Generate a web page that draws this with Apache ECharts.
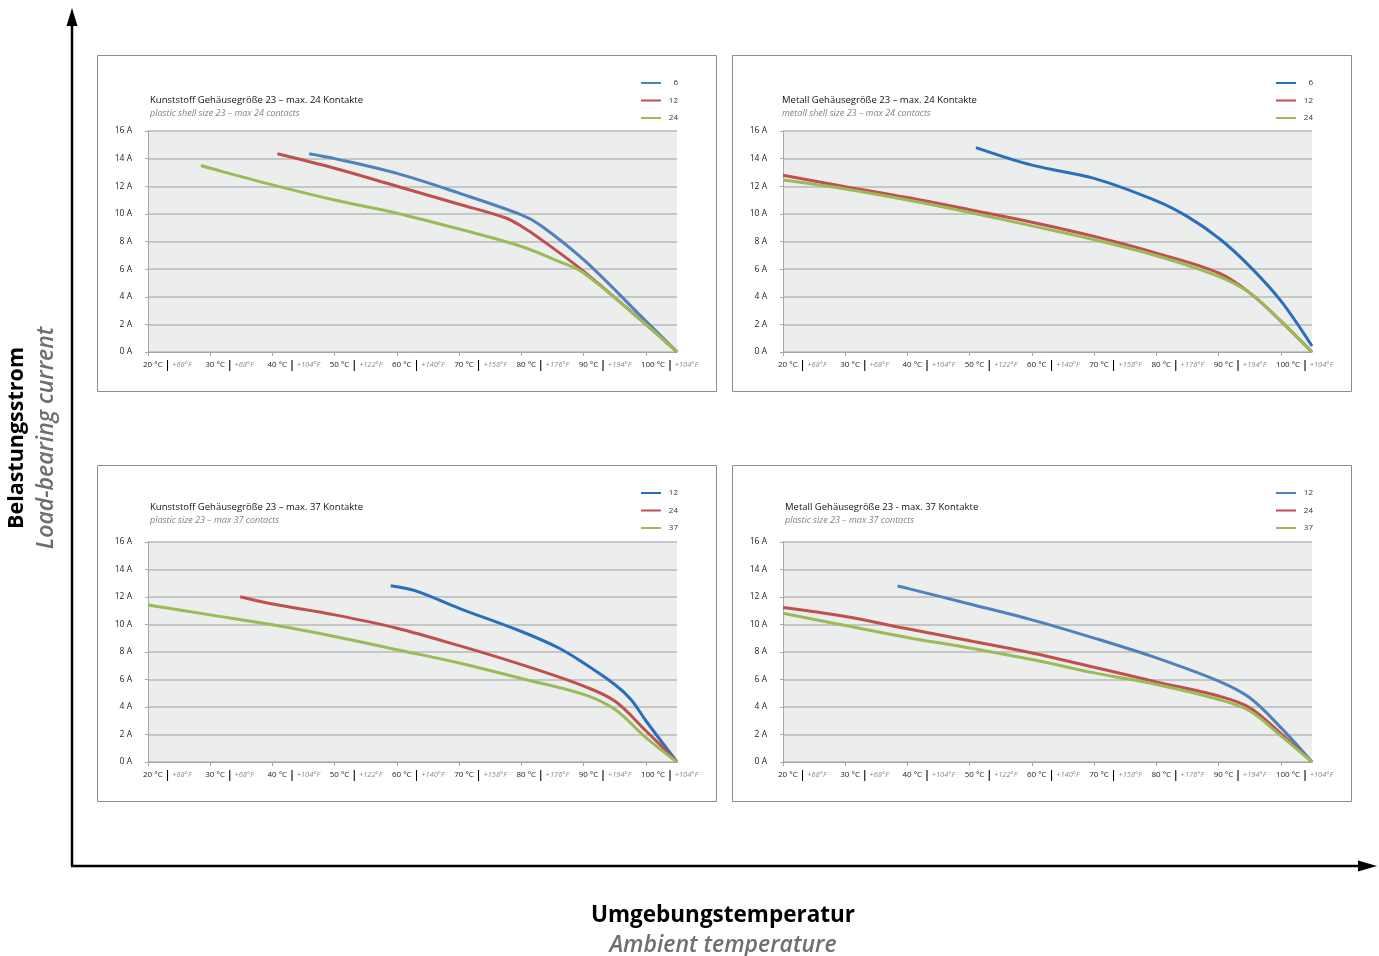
<!DOCTYPE html>
<html>
<head>
<meta charset="utf-8">
<title>Belastungsstrom / Load-bearing current</title>
<script src="https://cdn.jsdelivr.net/npm/echarts@6/dist/echarts.min.js"></script>
<style>
  html, body { margin: 0; padding: 0; background: #fff; }
  #chart { width: 1379px; height: 956px; }
</style>
</head>
<body>
<div id="chart"></div>
<script>
// x-axis tick labels
var tickC = [20, 30, 40, 50, 60, 70, 80, 90, 100];
var tickF = ['+68°F', '+68°F', '+104°F', '+122°F', '+140°F', '+158°F', '+176°F', '+194°F', '+104°F'];

// [°C, A]
// Kunststoff max. 24 Kontakte
var tl6 = [[45.9, 14.35], [50, 14.0], [60, 12.93], [70, 11.5], [80, 9.93], [83, 9.2], [90, 6.68], [100, 2.24], [105, 0]];
var tl12 = [[40.8, 14.35], [50, 13.3], [60, 12.0], [70, 10.7], [77.5, 9.7], [80, 9.1], [83, 8.2], [90, 5.84], [100, 2.0], [105, 0]];
var tl24 = [[28.5, 13.5], [30, 13.3], [40, 12.1], [50, 11.0], [60, 10.05], [70, 8.9], [80, 7.64], [86, 6.56], [90, 5.72], [100, 2.0], [105, 0]];
// Metall max. 24 Kontakte
var tr6 = [[51, 14.8], [60, 13.53], [70, 12.57], [80, 10.94], [85, 9.8], [90, 8.25], [95, 6.2], [100, 3.7], [105, 0.43]];
var tr12 = [[20, 12.8], [30, 11.97], [40, 11.18], [50, 10.3], [60, 9.4], [70, 8.37], [80, 7.16], [90, 5.72], [95, 4.28], [100, 2.24], [105, 0]];
var tr24 = [[20, 12.45], [30, 11.8], [40, 11.0], [50, 10.1], [60, 9.13], [70, 8.13], [80, 6.97], [90, 5.48], [95, 4.28], [100, 2.24], [105, 0]];
// Kunststoff max. 37 Kontakte
var bl12 = [[59, 12.82], [63, 12.45], [70, 11.18], [80, 9.49], [86, 8.29], [90, 7.2], [95, 5.64], [97.6, 4.55], [100, 3.0], [105, 0]];
var bl24 = [[34.8, 12.02], [40, 11.49], [50, 10.7], [60, 9.73], [70, 8.46], [80, 7.08], [90, 5.52], [95, 4.43], [100, 2.27], [105, 0]];
var bl37 = [[20, 11.42], [30, 10.7], [40, 9.98], [50, 9.13], [60, 8.17], [70, 7.2], [80, 6.07], [90, 4.92], [95, 3.83], [100, 1.78], [105, 0]];
// Metall max. 37 Kontakte
var br12 = [[38.4, 12.8], [40, 12.63], [50, 11.49], [60, 10.34], [70, 9.01], [80, 7.57], [90, 5.88], [95, 4.67], [100, 2.5], [105, 0]];
var br24 = [[20, 11.23], [30, 10.58], [40, 9.69], [50, 8.82], [60, 7.93], [70, 6.89], [80, 5.83], [90, 4.8], [95, 3.95], [100, 2.07], [105, 0]];
var br37 = [[20, 10.82], [30, 9.93], [40, 9.06], [50, 8.29], [60, 7.45], [70, 6.48], [80, 5.64], [90, 4.55], [95, 3.71], [100, 1.9], [105, 0]];

var FONT = '"Open Sans", "Noto Sans", sans-serif';
var RED = '#c0504d', GREEN = '#9bbb59';

var panels = [
  { bx: 97, by: 55, tx: 53, ty: 40, title: 'Kunststoff Gehäusegröße 23 – max. 24 Kontakte', sub: 'plastic shell size 23 – max 24 contacts',
    names: ['6', '12', '24'], data: [tl6, tl12, tl24], colors: ['#4f81bd', RED, GREEN] },
  { bx: 732, by: 55, tx: 50, ty: 40, title: 'Metall Gehäusegröße 23 – max. 24 Kontakte', sub: 'metall shell size 23 – max 24 contacts',
    names: ['6', '12', '24'], data: [tr6, tr12, tr24], colors: ['#2a6fbb', RED, GREEN] },
  { bx: 97, by: 465, tx: 53, ty: 37, title: 'Kunststoff Gehäusegröße 23 – max. 37 Kontakte', sub: 'plastic size 23 – max 37 contacts',
    names: ['12', '24', '37'], data: [bl12, bl24, bl37], colors: ['#2a6fbb', RED, GREEN] },
  { bx: 732, by: 465, tx: 53, ty: 37, title: 'Metall Gehäusegröße 23 - max. 37 Kontakte', sub: 'plastic size 23 – max 37 contacts',
    names: ['12', '24', '37'], data: [br12, br24, br37], colors: ['#4f81bd', RED, GREEN] }
];

var grid = [], xAxis = [], yAxis = [], series = [], legend = [], title = [];
var graphic = [];

panels.forEach(function (p, i) {
  var top = p.by + 76 + (i >= 2 ? 1 : 0);
  grid.push({
    left: p.bx + 51, top: top, width: 529, height: 221 - (i >= 2 ? 1 : 0),
    show: true, backgroundColor: '#eceeed', borderWidth: 0
  });
  xAxis.push({
    type: 'value', gridIndex: i, min: 20, max: 105, interval: 10,
    axisLine: { lineStyle: { color: '#a6a6a6', width: 1 } },
    axisTick: { length: 4, lineStyle: { color: '#a6a6a6' }, customValues: tickC },
    splitLine: { show: false },
    axisLabel: {
      customValues: tickC, align: 'left', margin: 8, padding: [0, 0, 0, -5],
      formatter: function (v) {
        var k = tickC.indexOf(v);
        return '{c|' + v + ' °C}{b||}{f|' + tickF[k] + '}';
      },
      rich: {
        c: { fontFamily: FONT, fontSize: 8, color: '#222' },
        b: { fontFamily: FONT, fontSize: 10, fontWeight: 'bold', color: '#000', padding: [0, 2, 0, 2] },
        f: { fontFamily: FONT, fontSize: 7.5, fontStyle: 'italic', color: '#8a8a8a' }
      }
    }
  });
  yAxis.push({
    type: 'value', gridIndex: i, min: 0, max: 16, interval: 2,
    axisLine: { show: true, lineStyle: { color: '#a6a6a6', width: 1 } },
    axisTick: { show: true, length: 3, lineStyle: { color: '#a6a6a6' } },
    splitLine: { lineStyle: { color: '#b8b8b8', width: 1.5 } },
    axisLabel: { formatter: '{value} A', margin: 16, fontFamily: FONT, fontSize: 8.5, color: '#222' }
  });
  var legendData = [];
  p.names.forEach(function (n, j) {
    var id = 'p' + i + '_' + n;
    legendData.push(id);
    series.push({
      name: id, type: 'line', xAxisIndex: i, yAxisIndex: i,
      data: p.data[j], smooth: 0.35, showSymbol: false, symbol: 'none',
      color: p.colors[j],
      lineStyle: { color: p.colors[j], width: 3 },
      silent: true, animation: false
    });
  });
  legend.push({
    data: legendData, orient: 'vertical', left: p.bx + 544, top: p.by + 24,
    padding: 0, itemWidth: 20, itemHeight: 2, itemGap: 9.5, icon: 'rect',
    selectedMode: false,
    formatter: function (name) { return '{a|' + name.split('_')[1] + '}'; },
    textStyle: {
      fontFamily: FONT, fontSize: 8, color: '#333',
      rich: { a: { width: 12, align: 'right', fontFamily: FONT, fontSize: 8, color: '#333' } }
    }
  });
  title.push({
    text: p.title, subtext: p.sub,
    left: p.bx + p.tx, top: p.by + p.ty, padding: 0,
    itemGap: 4,
    textStyle: { fontFamily: FONT, fontSize: 9.5, fontWeight: 'normal', color: '#111' },
    subtextStyle: { fontFamily: FONT, fontSize: 9, fontStyle: 'italic', color: '#808080' }
  });
  graphic.push({
    type: 'rect', shape: { x: p.bx + 0.5, y: p.by + 0.5, width: 619, height: 336 },
    style: { fill: null, stroke: '#8c8c8c', lineWidth: 1 }, z: -1, silent: true
  });
});

// big axes with arrows
graphic.push(
  { type: 'line', shape: { x1: 72, y1: 866, x2: 72, y2: 22 }, style: { stroke: '#000', lineWidth: 2.5 }, silent: true },
  { type: 'polygon', shape: { points: [[72, 8], [66.5, 26], [77.5, 26]] }, style: { fill: '#000' }, silent: true },
  { type: 'line', shape: { x1: 71, y1: 866, x2: 1362, y2: 866 }, style: { stroke: '#000', lineWidth: 2.5 }, silent: true },
  { type: 'polygon', shape: { points: [[1377, 866], [1358, 860.5], [1358, 871.5]] }, style: { fill: '#000' }, silent: true },
  { type: 'text', x: 17, y: 438, rotation: Math.PI / 2,
    style: { text: 'Belastungsstrom', fontFamily: FONT, fontSize: 21.5, fontWeight: 'bold', fill: '#000', align: 'center', verticalAlign: 'middle' } },
  { type: 'text', x: 46, y: 438, rotation: Math.PI / 2,
    style: { text: 'Load-bearing current', fontFamily: FONT, fontSize: 23, fontStyle: 'italic', fontWeight: 600, fill: '#6f6f6f', align: 'center', verticalAlign: 'middle' } },
  { type: 'text', x: 723, y: 916,
    style: { text: 'Umgebungstemperatur', fontFamily: FONT, fontSize: 22.5, fontWeight: 'bold', fill: '#000', align: 'center', verticalAlign: 'middle' } },
  { type: 'text', x: 723, y: 945,
    style: { text: 'Ambient temperature', fontFamily: FONT, fontSize: 23, fontStyle: 'italic', fontWeight: 600, fill: '#6f6f6f', align: 'center', verticalAlign: 'middle' } }
);

var chart = echarts.init(document.getElementById('chart'), null, { renderer: 'canvas' });
chart.setOption({
  backgroundColor: '#fff',
  animation: false,
  title: title,
  legend: legend,
  grid: grid,
  xAxis: xAxis,
  yAxis: yAxis,
  series: series,
  graphic: graphic
});
</script>
</body>
</html>
